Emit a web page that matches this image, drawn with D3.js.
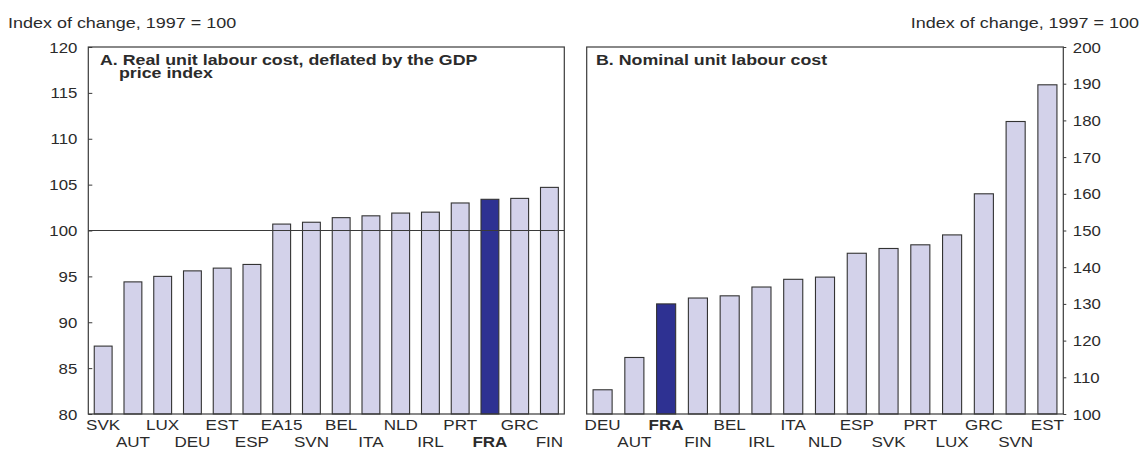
<!DOCTYPE html>
<html>
<head>
<meta charset="utf-8">
<script src="https://cdn.jsdelivr.net/npm/d3@7"></script>
<style>
  html, body { margin: 0; padding: 0; background: #fff; }
  svg { display: block; font-family: "Liberation Sans", Arial, Helvetica, sans-serif; }
</style>
</head>
<body>
<svg id="chart" width="1145" height="450"></svg>
<script>
// ---------- data ----------
const leftCategories = ["SVK","AUT","LUX","DEU","EST","ESP","EA15","SVN","BEL","ITA","NLD","IRL","PRT","FRA","GRC","FIN"];
const leftValues     = [87.4, 94.4, 95.0, 95.6, 95.9, 96.3, 100.7, 100.9, 101.4, 101.6, 101.9, 102.0, 103.0, 103.4, 103.5, 104.7];
const rightCategories = ["DEU","AUT","FRA","FIN","BEL","IRL","ITA","NLD","ESP","SVK","PRT","LUX","GRC","SVN","EST"];
const rightValues     = [106.6, 115.4, 130.0, 131.6, 132.2, 134.6, 136.7, 137.3, 143.8, 145.1, 146.1, 148.8, 160.0, 179.7, 189.7];
const leftTicks  = [80, 85, 90, 95, 100, 105, 110, 115, 120];
const rightTicks = [100, 110, 120, 130, 140, 150, 160, 170, 180, 190, 200];
const unitLabel = "Index of change, 1997 = 100";
const titleA1 = "A. Real unit labour cost, deflated by the GDP";
const titleA2 = "price index";
const titleB  = "B. Nominal unit labour cost";
const highlight = "FRA";

// ---------- style ----------
const BAR = "#d3d2ea", HI = "#2e3192", INK = "#2b2b2b", FRAME = "#3a3a3a";
const plotTop = 47, plotBottom = 414;
const PL = { x0: 88.3, x1: 564.3 };
const PR = { x0: 586.7, x1: 1063.3 };

const svg = d3.select("#chart");

function txt(x, y, s, o = {}) {
  return svg.append("text")
    .attr("transform", `translate(${x},${y}) scale(${o.sx || 1},1)`)
    .attr("text-anchor", o.anchor || "start")
    .attr("font-size", o.size || 15)
    .attr("font-weight", o.weight || "normal")
    .attr("fill", INK)
    .text(s);
}

function panel(P, cats, vals, domain, ticks, side) {
  const x = d3.scaleBand().domain(cats).range([P.x0, P.x1]).paddingInner(0.4).paddingOuter(0.2);
  const y = d3.scaleLinear().domain(domain).range([plotBottom, plotTop]);

  svg.append("g").selectAll("rect").data(cats.map((c, i) => ({ c, v: vals[i] })))
    .join("rect")
    .attr("x", d => x(d.c))
    .attr("width", x.bandwidth())
    .attr("y", d => y(d.v))
    .attr("height", d => y(domain[0]) - y(d.v))
    .attr("fill", d => d.c === highlight ? HI : BAR)
    .attr("stroke", "#333")
    .attr("stroke-width", 1.1);

  svg.append("rect").attr("x", P.x0).attr("y", plotTop)
    .attr("width", P.x1 - P.x0).attr("height", plotBottom - plotTop)
    .attr("fill", "none").attr("stroke", FRAME).attr("stroke-width", 1.2);

  if (side === "left") {
    const ax = svg.append("g").attr("transform", `translate(${P.x0},0)`)
      .call(d3.axisLeft(y).tickValues(ticks).tickSize(-4).tickFormat(""));
    ax.select(".domain").remove();
    ax.selectAll("line").attr("stroke", FRAME);
    ticks.forEach(t => txt(P.x0 - 11, y(t) + 5.5, String(t), { anchor: "end", size: 15, sx: 1.12 }));
  } else {
    const ax = svg.append("g").attr("transform", `translate(${P.x1},0)`)
      .call(d3.axisRight(y).tickValues(ticks).tickSize(3).tickFormat(""));
    ax.select(".domain").remove();
    ax.selectAll("line").attr("stroke", FRAME);
    ticks.forEach(t => txt(P.x1 + 9.5, y(t) + 5.5, String(t), { anchor: "start", size: 15, sx: 1.12 }));
  }

  cats.forEach((c, i) => {
    const cx = x(c) + x.bandwidth() / 2;
    txt(cx, i % 2 === 0 ? 429.5 : 446.5, c, {
      anchor: "middle", size: 15.5, sx: 1.1, weight: c === highlight ? "bold" : "normal"
    });
  });
  return { x, y };
}

const A = panel(PL, leftCategories, leftValues, [80, 120], leftTicks, "left");
svg.append("line").attr("x1", PL.x0).attr("x2", PL.x1)
  .attr("y1", A.y(100)).attr("y2", A.y(100))
  .attr("stroke", FRAME).attr("stroke-width", 1.2);

panel(PR, rightCategories, rightValues, [100, 200], rightTicks, "right");

txt(100, 65, titleA1, { size: 14, weight: "bold", sx: 1.27 });
txt(119, 78, titleA2, { size: 14, weight: "bold", sx: 1.27 });
txt(596, 65, titleB, { size: 14, weight: "bold", sx: 1.27 });

txt(8, 28, unitLabel, { size: 15.5, sx: 1.16 });
txt(1139, 28, unitLabel, { size: 15.5, sx: 1.16, anchor: "end" });
</script>
</body>
</html>
